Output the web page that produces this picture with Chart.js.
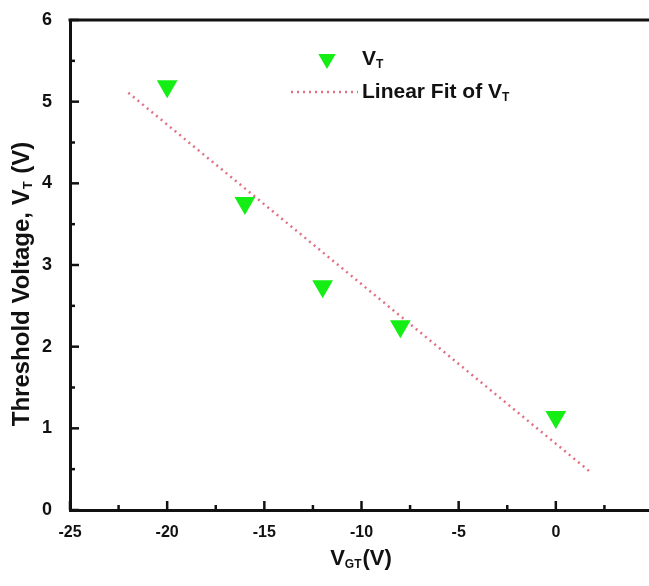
<!DOCTYPE html>
<html>
<head>
<meta charset="utf-8">
<title>Threshold voltage vs VGT</title>
<script src="https://cdn.jsdelivr.net/npm/chart.js@4.4.1/dist/chart.umd.min.js"></script>
<style>
  html, body { margin: 0; padding: 0; background: #fff; overflow: hidden; }
  #wrap { width: 649px; height: 586px; overflow: hidden; position: relative; }
  #vtChart { display: block; }
</style>
</head>
<body>
<div id="wrap"><canvas id="vtChart" width="665" height="586"></canvas></div>
<script>
/* Threshold voltage vs gate bias - measured points and linear fit */

var VGT_VALUES = [-20, -16, -12, -8, 0];
var VT_VALUES = [5.19, 3.76, 2.74, 2.25, 1.14];
var FIT_X = [-22, 1.8];
var FIT_Y = [5.11, 0.46];
var X_TICK_STEP = 2.5;
var Y_TICK_STEP = 0.5;

var TEXT_FONT = "'Liberation Sans', Arial, sans-serif";
var POINT_GREEN = '#14ee14';
var FIT_RED = 'rgba(222, 96, 118, 0.9)';

function toPoints(xs, ys) {
  var pts = [];
  for (var i = 0; i < xs.length; i += 1) {
    pts.push({ x: xs[i], y: ys[i] });
  }
  return pts;
}

// draws text made of normal / subscript parts, returns total width
function drawParts(ctx, parts, x, y, size, measureOnly) {
  var w = 0;
  parts.forEach(function (p) {
    var s = p[1] ? Math.round(size * 0.55) : size;
    ctx.font = 'bold ' + s + 'px ' + TEXT_FONT;
    if (!measureOnly) {
      ctx.fillText(p[0], x + w, p[1] ? y + size * 0.28 : y);
    }
    w += ctx.measureText(p[0]).width + (p[1] ? 1 : 0);
  });
  return w;
}

var decorPlugin = {
  id: 'decor',
  afterDraw: function (chart) {
    var ctx = chart.ctx;
    var a = chart.chartArea;
    var xs = chart.scales.x;
    var ys = chart.scales.y;

    ctx.save();
    ctx.strokeStyle = '#111';
    ctx.fillStyle = '#111';

    // top frame line
    ctx.lineWidth = 3;
    ctx.beginPath();
    ctx.moveTo(a.left - 1.5, a.top);
    ctx.lineTo(a.right, a.top);
    ctx.stroke();

    // inward ticks
    ctx.lineWidth = 2.5;
    xs.ticks.forEach(function (t) {
      var px = xs.getPixelForValue(t.value);
      var len = t.value % 5 === 0 ? 9 : 5;
      ctx.beginPath();
      ctx.moveTo(px, a.bottom);
      ctx.lineTo(px, a.bottom - len);
      ctx.stroke();
    });
    ys.ticks.forEach(function (t) {
      var py = ys.getPixelForValue(t.value);
      var len = t.value % 1 === 0 ? 9 : 5;
      ctx.beginPath();
      ctx.moveTo(a.left, py);
      ctx.lineTo(a.left + len, py);
      ctx.stroke();
    });

    // axis titles
    ctx.textBaseline = 'middle';
    ctx.textAlign = 'left';
    var yParts = [['Threshold Voltage, V', false], ['T', true], [' (V)', false]];
    var yw = drawParts(ctx, yParts, 0, 0, 24, true);
    ctx.save();
    ctx.translate(22, 284);
    ctx.rotate(-Math.PI / 2);
    drawParts(ctx, yParts, -yw / 2, 0, 24, false);
    ctx.restore();

    var xParts = [['V', false], ['GT', true], ['(V)', false]];
    var xw = drawParts(ctx, xParts, 0, 0, 22, true);
    drawParts(ctx, xParts, 361 - xw / 2, 559, 22, false);

    // legend
    ctx.fillStyle = POINT_GREEN;
    Chart.helpers.drawPoint(ctx, {
      pointStyle: 'triangle', rotation: 180, radius: 10, borderWidth: 0
    }, 327, 59);

    ctx.strokeStyle = FIT_RED;
    ctx.lineWidth = 2.5;
    ctx.setLineDash([2, 4]);
    ctx.beginPath();
    ctx.moveTo(291, 92);
    ctx.lineTo(358, 92);
    ctx.stroke();
    ctx.setLineDash([]);

    ctx.fillStyle = '#111';
    drawParts(ctx, [['V', false], ['T', true]], 362, 59, 21, false);
    drawParts(ctx, [['Linear Fit of V', false], ['T', true]], 362, 92, 21, false);

    ctx.restore();
  }
};

var ctx = document.getElementById('vtChart').getContext('2d');

var vtChart = new Chart(ctx, {
  type: 'scatter',
  data: {
    datasets: [
      {
        label: 'VT',
        data: toPoints(VGT_VALUES, VT_VALUES),
        pointStyle: 'triangle',
        rotation: 180,
        pointRadius: 12,
        pointHoverRadius: 12,
        backgroundColor: POINT_GREEN,
        borderColor: POINT_GREEN,
        borderWidth: 0
      },
      {
        label: 'Linear Fit of VT',
        data: toPoints(FIT_X, FIT_Y),
        showLine: true,
        pointRadius: 0,
        borderColor: FIT_RED,
        borderWidth: 2.5,
        borderDash: [2, 4],
        fill: false
      }
    ]
  },
  options: {
    responsive: false,
    animation: false,
    layout: { padding: { top: 20, right: 4, left: 0, bottom: 0 } },
    plugins: {
      legend: { display: false },
      tooltip: { enabled: false }
    },
    scales: {
      x: {
        type: 'linear',
        min: -25,
        max: 5,
        grid: { display: false },
        border: { display: true, color: '#111', width: 3 },
        ticks: {
          stepSize: X_TICK_STEP,
          autoSkip: false,
          maxRotation: 0,
          padding: 5,
          color: '#111',
          font: { family: TEXT_FONT, size: 16, weight: 'bold' },
          callback: function (v) { return v % 5 === 0 ? String(v) : ''; }
        },
        afterFit: function (s) {
          s.height = 76;
          s.paddingLeft = 0;
          s.paddingRight = 0;
        }
      },
      y: {
        type: 'linear',
        min: 0,
        max: 6,
        grid: { display: false },
        border: { display: true, color: '#111', width: 3 },
        ticks: {
          stepSize: Y_TICK_STEP,
          autoSkip: false,
          padding: 10,
          color: '#111',
          font: { family: TEXT_FONT, size: 18, weight: 'bold' },
          callback: function (v) { return v % 1 === 0 ? String(v) : ''; }
        },
        afterFit: function (s) {
          s.width = 70;
          s.paddingTop = 0;
          s.paddingBottom = 0;
        }
      }
    }
  },
  plugins: [decorPlugin]
});
</script>
</body>
</html>
